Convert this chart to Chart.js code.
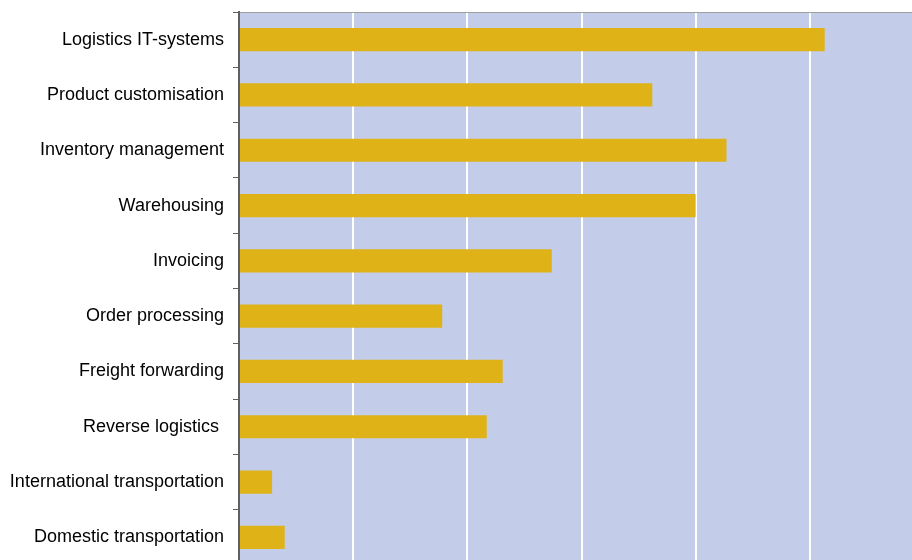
<!DOCTYPE html>
<html>
<head>
<meta charset="utf-8">
<script src="https://cdn.jsdelivr.net/npm/chart.js@4/dist/chart.umd.min.js"></script>
<style>
  html, body { margin: 0; padding: 0; background: #ffffff; overflow: hidden; }
  #wrap { position: relative; width: 912px; height: 560px; overflow: hidden; }
  #c { position: absolute; left: 0; top: 0; }
</style>
</head>
<body>
<div id="wrap"><canvas id="c" width="924" height="565"></canvas></div>
<script>
// Outsourced logistics activities (share, %)
const categories = [
  'Logistics IT-systems',
  'Product customisation',
  'Inventory management',
  'Warehousing',
  'Invoicing',
  'Order processing',
  'Freight forwarding',
  'Reverse logistics ',
  'International transportation',
  'Domestic transportation'
];
const shares = [51.3, 36.2, 42.7, 40.0, 27.4, 17.8, 23.1, 21.7, 2.9, 4.0];
const axisMin = 0;
const axisMax = 60;
const axisStep = 10;

// Fill the plotting area before the datasets are drawn
const plotBackground = {
  id: 'plotBackground',
  beforeDraw(chart) {
    const { ctx, chartArea: a } = chart;
    ctx.save();
    ctx.fillStyle = '#c3cce8';
    ctx.fillRect(a.left, a.top, a.right - a.left, a.bottom - a.top);
    ctx.restore();
  }
};

new Chart(document.getElementById('c'), {
  type: 'bar',
  data: {
    labels: categories,
    datasets: [{
      data: shares,
      backgroundColor: '#dfb318',
      borderWidth: 0,
      categoryPercentage: 1,
      barPercentage: 0.42
    }]
  },
  options: {
    indexAxis: 'y',
    responsive: false,
    animation: false,
    devicePixelRatio: 1,
    layout: { padding: { top: 12, right: 0, bottom: 0, left: 0 } },
    plugins: { legend: { display: false }, tooltip: { enabled: false } },
    scales: {
      x: {
        min: axisMin,
        max: axisMax,
        ticks: { display: false, stepSize: axisStep },
        grid: { color: '#ffffff', lineWidth: 2, drawTicks: false },
        border: { display: false },
        afterFit(scale) {
          scale.height = 0;
          scale.paddingLeft = 0; scale.paddingRight = 0;
          scale.paddingTop = 0; scale.paddingBottom = 0;
        }
      },
      y: {
        ticks: {
          color: '#000000',
          padding: 9,
          font: { family: "'Liberation Sans', Arial, sans-serif", size: 18 }
        },
        grid: {
          offset: true,
          drawOnChartArea: true,
          color: (ctx) => ctx.index === 0 ? '#a0a0a0' : 'rgba(0,0,0,0)',
          tickColor: '#606060',
          tickLength: 6,
          lineWidth: 1
        },
        border: { display: true, color: '#606060', width: 2 },
        afterFit(scale) {
          scale.width = 239;
          scale.paddingTop = 0; scale.paddingBottom = 0;
          scale.paddingLeft = 0; scale.paddingRight = 0;
        }
      }
    }
  },
  plugins: [plotBackground]
});
</script>
</body>
</html>
